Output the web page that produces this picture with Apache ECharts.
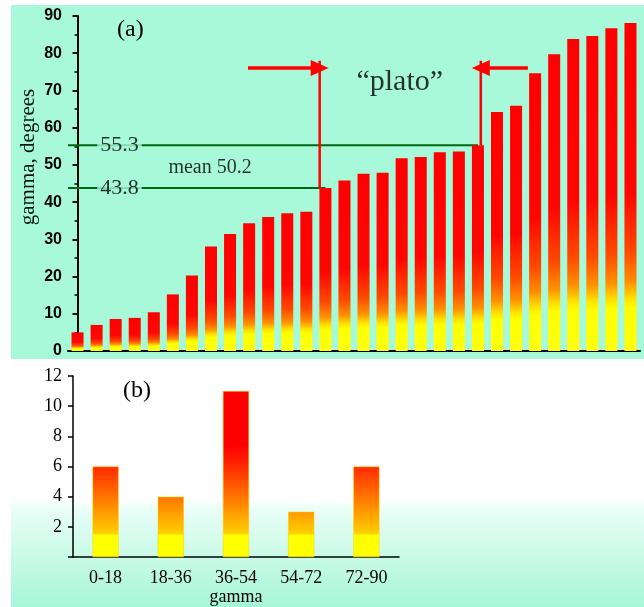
<!DOCTYPE html>
<html><head><meta charset="utf-8">
<script src="https://cdn.jsdelivr.net/npm/echarts@6/dist/echarts.min.js"></script>
<style>html,body{margin:0;padding:0;background:#fff}#c{width:644px;height:607px}</style>
</head><body><div id="c"></div>
<script>
// ---- data (panel a) ----
const gammaValues = [5.0, 7.0, 8.6, 8.9, 10.4, 15.2, 20.3, 28.1, 31.4, 34.3, 36.0, 37.0, 37.4, 43.8,
  45.8, 47.6, 47.9, 51.8, 52.1, 53.4, 53.6, 55.3, 64.2, 65.9, 74.6, 79.7, 83.8, 84.6, 86.7, 88.1];
const gammaIndex = gammaValues.map((v, i) => String(i + 1));
const yTicksA = [0, 10, 20, 30, 40, 50, 60, 70, 80, 90];
const upperValue = 55.3;
const lowerValue = 43.8;
const meanValue = 50.2;
const plateauStartBar = 13;   // 0-based index of the 43.8 bar
const plateauEndBar = 21;     // 0-based index of the 55.3 bar
const plateauTop = 78;        // top of red bracket lines (degrees)
const arrowLevel = 76;        // height of arrows (degrees)
// ---- data (panel b) ----
const binLabels = ['0-18', '18-36', '36-54', '54-72', '72-90'];
const binCounts = [6, 4, 11, 3, 6];
const yTicksB = [0, 2, 4, 6, 8, 10, 12];

const MINT = '#a8f8da';
const SERIF = 'Liberation Serif';
const SANS = 'Liberation Sans';

const chart = echarts.init(document.getElementById('c'), null, {renderer: 'canvas'});

const barGradA = new echarts.graphic.LinearGradient(0, 0, 0, 1, [
  {offset: 0, color: '#ff0000'},
  {offset: 0.52, color: '#ff0600'},
  {offset: 0.7, color: '#ff4a00'},
  {offset: 0.79, color: '#ff9000'},
  {offset: 0.84, color: '#ffe000'},
  {offset: 0.87, color: '#ffff00'},
  {offset: 1, color: '#ffff10'}
]);
// global gradient for panel b (pixel coords of its value axis 0..12)
const barGradB = new echarts.graphic.LinearGradient(0, 559, 0, 376, [
  {offset: 0, color: '#ffff00'},
  {offset: 0.13, color: '#ffff00'},
  {offset: 0.14, color: '#ffd000'},
  {offset: 0.24, color: '#ffa200'},
  {offset: 0.34, color: '#ff7400'},
  {offset: 0.5, color: '#ff2c00'},
  {offset: 0.62, color: '#ff0000'},
  {offset: 1, color: '#ff0000'}
], true);

const lowerEnd = plateauStartBar;
const upperEnd = plateauEndBar;
const leftBracketX = plateauStartBar - 0.3;
const rightBracketX = plateauEndBar + 0.15;

chart.setOption({
  animation: false,
  backgroundColor: '#ffffff',
  graphic: [
    {type: 'rect', z: -10, silent: true, shape: {x: 11, y: 5, width: 633, height: 354}, style: {fill: MINT}},
    {type: 'rect', z: -10, silent: true, shape: {x: 11, y: 359, width: 633, height: 248},
      style: {fill: new echarts.graphic.LinearGradient(0, 0, 0, 1, [
        {offset: 0, color: '#ffffff'},
        {offset: 0.57, color: '#ffffff'},
        {offset: 0.6, color: '#eafef7'},
        {offset: 1, color: '#a6f6d8'}
      ])}},
    {type: 'text', z: 10, left: 117, top: 18, style: {text: '(a)', font: '24px "Liberation Serif"', fill: '#000'}},
    {type: 'text', z: 10, left: 123, top: 379, style: {text: '(b)', font: '24px "Liberation Serif"', fill: '#000'}},
    {type: 'text', z: 10, x: 18, y: 157, rotation: Math.PI / 2,
      style: {text: 'gamma, degrees', font: '21px "Liberation Serif"', fill: '#08180f', align: 'center', verticalAlign: 'top'}}
  ],
  grid: [
    {left: 68, top: 16, right: 4, height: 335},
    {left: 73, top: 376, width: 326, height: 183}
  ],
  xAxis: [
    {type: 'category', gridIndex: 0, data: gammaIndex,
      axisLine: {lineStyle: {color: '#000', width: 2}}, axisTick: {show: false}, axisLabel: {show: false}},
    {type: 'value', gridIndex: 0, min: -0.5, max: gammaValues.length - 0.5, show: false},
    {type: 'category', gridIndex: 1, data: binLabels,
      axisLine: {lineStyle: {color: '#000', width: 1.5}}, axisTick: {show: false},
      axisLabel: {fontFamily: SERIF, fontSize: 18, color: '#000', margin: 12},
      name: 'gamma', nameLocation: 'middle', nameGap: 30,
      nameTextStyle: {fontFamily: SERIF, fontSize: 18, color: '#000'}}
  ],
  yAxis: [
    {type: 'value', gridIndex: 0, min: yTicksA[0], max: yTicksA[yTicksA.length - 1], interval: 10,
      axisLine: {show: true, lineStyle: {color: '#000', width: 2}},
      axisTick: {show: true, length: 5, lineStyle: {color: '#000', width: 2}},
      minorTick: {show: true, splitNumber: 2, length: 3, lineStyle: {color: '#000', width: 1.5}},
      splitLine: {show: false},
      axisLabel: {fontFamily: SANS, fontWeight: 'bold', fontSize: 16, color: '#000', margin: 6}},
    {type: 'value', gridIndex: 1, min: yTicksB[0], max: yTicksB[yTicksB.length - 1], interval: 2,
      axisLine: {show: true, lineStyle: {color: '#000', width: 1.5}},
      axisTick: {show: true, length: 5, lineStyle: {color: '#000', width: 1.5}},
      splitLine: {show: false},
      axisLabel: {fontFamily: SERIF, fontSize: 18, color: '#000', margin: 11,
        formatter: v => (v === 0 ? '' : String(v))}}
  ],
  series: [
    {type: 'bar', xAxisIndex: 0, yAxisIndex: 0, data: gammaValues, barWidth: '63%', z: 3,
      itemStyle: {color: barGradA}},
    {type: 'line', xAxisIndex: 1, yAxisIndex: 0, symbol: 'none', z: 2,
      lineStyle: {color: '#006a10', width: 2},
      data: [[-0.5, upperValue], [upperEnd, upperValue]]},
    {type: 'line', xAxisIndex: 1, yAxisIndex: 0, symbol: 'none', z: 2,
      lineStyle: {color: '#006a10', width: 2},
      data: [[-0.5, lowerValue], [lowerEnd, lowerValue]]},
    {type: 'line', xAxisIndex: 1, yAxisIndex: 0, symbol: 'none', z: 4,
      lineStyle: {color: '#ff0000', width: 2.5},
      data: [[leftBracketX, lowerValue], [leftBracketX, plateauTop]]},
    {type: 'line', xAxisIndex: 1, yAxisIndex: 0, symbol: 'none', z: 4,
      lineStyle: {color: '#ff0000', width: 2.5},
      data: [[rightBracketX, upperValue], [rightBracketX, plateauTop]],
      markLine: {silent: true, symbol: ['none', 'triangle'], symbolSize: [16, 18],
        label: {show: false},
        lineStyle: {color: '#ff0000', width: 3.5, type: 'solid'},
        data: [
          [{coord: [leftBracketX - 3.76, arrowLevel]}, {coord: [leftBracketX, arrowLevel]}],
          [{coord: [rightBracketX + 2.47, arrowLevel]}, {coord: [rightBracketX, arrowLevel]}]
        ]}},
    {type: 'scatter', xAxisIndex: 1, yAxisIndex: 0, symbolSize: 0, z: 6, silent: true,
      label: {show: true, position: 'inside', color: '#000', fontFamily: SERIF,
        formatter: p => p.data.text},
      data: [
        {value: [2.2, upperValue], text: '55.3',
          label: {fontSize: 22, backgroundColor: MINT, padding: [0, 3]}},
        {value: [2.2, lowerValue], text: '43.8',
          label: {fontSize: 22, backgroundColor: MINT, padding: [0, 3]}},
        {value: [6.95, 49.2], text: 'mean ' + meanValue.toFixed(1), label: {fontSize: 20}},
        {value: [16.9, 72.3], text: '\u201cplato\u201d', label: {fontSize: 30}}
      ]},
    {type: 'bar', xAxisIndex: 2, yAxisIndex: 1, data: binCounts, barWidth: '40%',
      itemStyle: {color: barGradB, borderColor: '#ffd000', borderWidth: 0.5}}
  ]
});
</script></body></html>
